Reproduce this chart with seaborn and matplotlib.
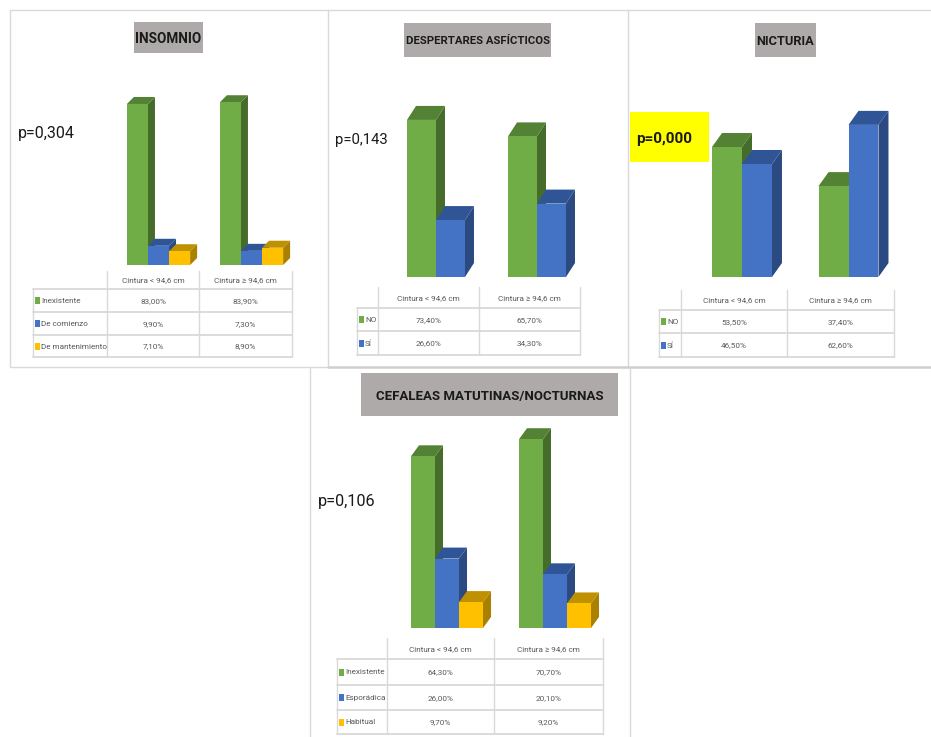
import numpy as np
import pandas as pd
import matplotlib
matplotlib.use("Agg")
import matplotlib.pyplot as plt
from matplotlib import font_manager
from matplotlib.patches import Rectangle, Polygon
import seaborn as sns

# ---------------- data ----------------
groups = ["Cintura < 94,6 cm", "Cintura ≥ 94,6 cm"]

insomnio_levels = ["Inexistente", "De comienzo", "De mantenimiento"]
insomnio_lt = [83.0, 9.9, 7.1]
insomnio_ge = [83.9, 7.3, 8.9]

despertares_levels = ["NO", "SÍ"]
despertares_lt = [73.4, 26.6]
despertares_ge = [65.7, 34.3]

nicturia_levels = ["NO", "SÍ"]
nicturia_lt = [53.5, 46.5]
nicturia_ge = [37.4, 62.6]

cefaleas_levels = ["Inexistente", "Esporádica", "Habitual"]
cefaleas_lt = [64.3, 26.0, 9.7]
cefaleas_ge = [70.7, 20.1, 9.2]

titles = ["INSOMNIO", "DESPERTARES ASFÍCTICOS", "NICTURIA",
          "CEFALEAS MATUTINAS/NOCTURNAS"]
p_values = ["p=0,304", "p=0,143", "p=0,000", "p=0,106"]

# ---------------- style ----------------
sns.set_theme(style="white")
names = {f.name for f in font_manager.fontManager.ttflist}
if "Liberation Sans Narrow" in names:
    FONT = "Liberation Sans Narrow"
elif "Noto Sans CJK SC" in names:
    FONT = "Noto Sans CJK SC"
else:
    FONT = "Roboto"
plt.rcParams["font.family"] = [FONT, "DejaVu Sans"]

W, H = 931, 737
fig = plt.figure(figsize=(W / 100, H / 100), dpi=100)
fig.patch.set_facecolor("white")
renderer = fig.canvas.get_renderer()

bg = fig.add_axes([0, 0, 1, 1], zorder=0)
bg.set_xlim(0, W)
bg.set_ylim(H, 0)
bg.axis("off")

FRONT = ["#70ad47", "#4472c4", "#ffc000"]
SIDE = ["#466c2b", "#2c4a82", "#a98000"]
TOP = ["#548235", "#2f5597", "#bf9000"]
GRID = "#d9d9d9"
TXT = "#595959"


def fit_width(t, target_px):
    """Rescale a text so that its rendered width equals target_px."""
    w = t.get_window_extent(renderer=renderer).width
    t.set_fontsize(t.get_fontsize() * target_px / w)
    return t.get_fontsize()


# one font size for every table cell, taken from the header width
_probe = bg.text(0, 0, groups[0], fontsize=7)
TABLE_FS = fit_width(_probe, 63)
_probe.remove()

# ---------------- panel frames ----------------
frame = dict(color=GRID, lw=1.0)
bg.plot([10, 931], [10, 10], **frame)
bg.plot([10, 10], [10, 367], **frame)
bg.plot([328, 328], [10, 367], **frame)
bg.plot([628, 628], [10, 367], **frame)
bg.plot([10, 328], [367, 367], **frame)
bg.plot([328, 931], [367, 367], color="#cfcfcf", lw=1.8)
bg.plot([310, 310], [368, 737], **frame)
bg.plot([630, 630], [368, 737], **frame)


def title_box(x0, y0, x1, y1, text, text_w):
    bg.add_patch(Rectangle((x0, y0), x1 - x0, y1 - y0, facecolor="#aeaaaa",
                           edgecolor="none"))
    t = bg.text((x0 + x1) / 2, (y0 + y1) / 2, text, ha="center",
                va="center_baseline", fontsize=12, fontweight="bold",
                color="#1a1a1a")
    fit_width(t, text_w)


def p_label(x, y, text, text_w, bold=False):
    t = bg.text(x, y, text, ha="left", va="center_baseline", fontsize=13,
                fontweight="bold" if bold else "normal", color="#1a1a1a")
    fit_width(t, text_w)


def bars3d(levels, lt, ge, c0, unit, base, scale, width, depth):
    df = pd.DataFrame({
        "grupo": np.repeat(groups, len(levels)),
        "nivel": list(levels) * 2,
        "valor": list(lt) + list(ge),
    })
    n = len(levels)
    left = c0 - 0.8 * unit
    rect = [left / W, (H - base) / H, 2.6 * unit / W, 100 * scale / H]
    ax = fig.add_axes(rect, zorder=1)
    ax.patch.set_alpha(0)
    sns.barplot(data=df, x="grupo", y="valor", hue="nivel", order=groups,
                hue_order=levels, palette=FRONT[:n], saturation=1,
                width=width, linewidth=0, errorbar=None, legend=False, ax=ax)
    ax.set_xlim(-0.8, 1.8)
    ax.set_ylim(0, 100)
    ax.axis("off")
    dxd = depth[0] / unit
    dyd = depth[1] / scale
    bars = sorted([p for p in ax.patches if p.get_height() > 0],
                  key=lambda p: p.get_x())
    for i, p in enumerate(bars):
        k = i % n
        x0, w, h = p.get_x(), p.get_width(), p.get_height()
        p.set_zorder(3 + 2 * k + 1)
        side = Polygon([(x0 + w, 0), (x0 + w + dxd, dyd),
                        (x0 + w + dxd, h + dyd), (x0 + w, h)],
                       closed=True, facecolor=SIDE[k], edgecolor="none",
                       zorder=3 + 2 * k, clip_on=False)
        top = Polygon([(x0, h), (x0 + w, h), (x0 + w + dxd, h + dyd),
                       (x0 + dxd, h + dyd)],
                      closed=True, facecolor=TOP[k], edgecolor="none",
                      zorder=3 + 2 * k, clip_on=False)
        ax.add_patch(side)
        ax.add_patch(top)
    return ax


def data_table(levels, lt, ge, cols, rows):
    c0, c1, c2, c3 = cols
    for x in (c1, c2, c3):
        bg.plot([x, x], [rows[0], rows[-1]], color=GRID, lw=1.0)
    bg.plot([c0, c0], [rows[1], rows[-1]], color=GRID, lw=1.0)
    for y in rows[1:]:
        bg.plot([c0, c3], [y, y], color=GRID, lw=1.3)
    hy = (rows[0] + rows[1]) / 2
    mids = [(c1 + c2) / 2, (c2 + c3) / 2]
    for j, g in enumerate(groups):
        bg.text(mids[j], hy, g, ha="center", va="center_baseline",
                fontsize=TABLE_FS, color=TXT)
    for k, lev in enumerate(levels):
        ym = (rows[k + 1] + rows[k + 2]) / 2
        bg.add_patch(Rectangle((c0 + 2, ym - 3.5), 5, 7, facecolor=FRONT[k],
                               edgecolor="none"))
        bg.text(c0 + 8, ym, lev, ha="left", va="center_baseline",
                fontsize=TABLE_FS, color=TXT)
        for j, vals in enumerate((lt, ge)):
            bg.text(mids[j], ym, f"{vals[k]:.2f}%".replace(".", ","),
                    ha="center", va="center_baseline", fontsize=TABLE_FS,
                    color=TXT)


# ---------------- INSOMNIO ----------------
title_box(134, 22, 203, 53, titles[0], 66)
p_label(18, 132, p_values[0], 57)
bars3d(insomnio_levels, insomnio_lt, insomnio_ge, c0=158.5, unit=93,
       base=265, scale=1.94, width=0.68, depth=(7, 7))
data_table(insomnio_levels, insomnio_lt, insomnio_ge,
           [33, 107, 199, 292], [271, 289, 312, 335, 357])

# ---------------- DESPERTARES ASFÍCTICOS ----------------
title_box(404, 23, 551, 57, titles[1], 144)
p_label(335, 138, p_values[1], 53)
bars3d(despertares_levels, despertares_lt, despertares_ge, c0=436, unit=101,
       base=277, scale=2.14, width=0.574, depth=(9, 14))
data_table(despertares_levels, despertares_lt, despertares_ge,
           [357, 378, 479, 580], [287, 308, 331, 355])

# ---------------- NICTURIA ----------------
title_box(755, 23, 816, 57, titles[2], 58)
bg.add_patch(Rectangle((630, 112), 79, 50, facecolor="#ffff00",
                       edgecolor="none"))
p_label(636, 137, p_values[2], 56, bold=True)
bars3d(nicturia_levels, nicturia_lt, nicturia_ge, c0=742, unit=106.5,
       base=277, scale=2.43, width=0.563, depth=(10, 14))
data_table(nicturia_levels, nicturia_lt, nicturia_ge,
           [659, 681, 787, 894], [290, 310, 333, 357])

# ---------------- CEFALEAS MATUTINAS/NOCTURNAS ----------------
title_box(361, 373, 618, 416, titles[3], 228)
p_label(318, 500, p_values[3], 58)
bars3d(cefaleas_levels, cefaleas_lt, cefaleas_ge, c0=447, unit=108,
       base=628, scale=2.67, width=0.667, depth=(8, 11))
data_table(cefaleas_levels, cefaleas_lt, cefaleas_ge,
           [337, 387, 494, 603], [638, 659, 685, 710, 734])

fig.savefig("out.png", dpi=100, facecolor="white")
